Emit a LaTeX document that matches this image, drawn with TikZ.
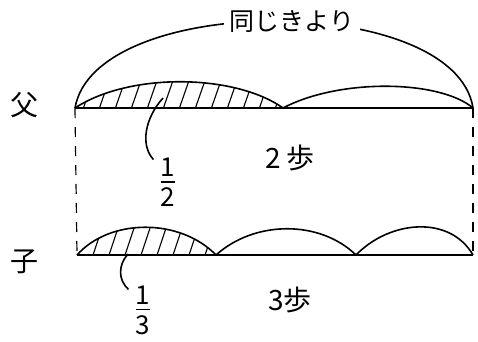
\documentclass[tikz,border=0pt]{standalone}
\usepackage{amsmath}
\usepackage{fontspec}
\newfontfamily\jp{Noto Sans CJK JP}
\usetikzlibrary{positioning}
\newcommand{\handfrac}[2]{$\genfrac{}{}{1.6pt}{0}{\text{\jp\fontsize{26}{28}\selectfont #1}}{\text{\jp\fontsize{26}{28}\selectfont #2}}$}
\tikzset{
  lbl/.style={font=\jp\fontsize{28}{30}\selectfont},
  toplbl/.style={font=\jp\fontsize{25}{27}\selectfont},
  hatch/.style={line width=1.1pt}
}

\begin{document}
\begin{tikzpicture}[x=1pt,y=-1pt,line width=1.6pt]
\useasboundingbox (0,0) rectangle (478,341);
% father and child lines
\coordinate (F0) at (75,108);
\coordinate (F1) at (283,108);
\coordinate (F2) at (473,108);
\coordinate (C0) at (77,255);
\coordinate (C1) at (216,255);
\coordinate (C2) at (356,255);
\coordinate (C3) at (473,255);
\node[lbl] (fa) at (24,105) {父};
\node[lbl] (ko) at (24,262) {子};
\draw (F0) -- (F2);
\draw (C0) -- (C3);
\draw [dash pattern=on 10pt off 9pt,line width=1.2pt] (F0) -- (C0);
\draw [dash pattern=on 10pt off 9pt,line width=1.2pt] (F2) -- (C3);
% hatching
\begin{scope}
\clip (F0) .. controls (130,72) and (235,74) .. (F1) -- cycle;
\foreach \x in {50,66,...,300} {
  \draw[hatch] (\x,112) -- ++(14,-40);
}
\end{scope}
\begin{scope}
\clip (C0) .. controls (110,218) and (180,218) .. (C1) -- cycle;
\foreach \x in {60,76,...,230} {
  \draw[hatch] (\x,258) -- ++(12,-36);
}
\end{scope}
% steps
\draw (F0) .. controls (130,72) and (235,74) .. (F1);
\draw (F1) .. controls (340,78) and (440,80) .. (F2);
\draw (C0) .. controls (110,218) and (180,218) .. (C1);
\draw (C1) .. controls (255,220) and (320,220) .. (C2);
\draw (C2) .. controls (390,220) and (450,215) .. (C3);
% same distance
\draw (F0) .. controls (95,-8) and (455,-8) .. (F2);
\node[toplbl, fill=white, inner xsep=6pt] (same) at (292,22) {同じきより};
% labels
\node (half) at (168,182) {\handfrac{1}{2}};
\node (third) at (143,310) {\handfrac{1}{3}};
\coordinate (h1) at (163,98);
\coordinate (t1) at (128,254);
\draw (h1) .. controls (145,118) and (140,145) .. ([xshift=-2pt,yshift=-6pt]half.north west);
\draw (t1) .. controls (118,265) and (118,280) .. ([xshift=-2pt,yshift=-8pt]third.north west);
\node[lbl] (two) at (290,158) {2 歩};
\node[lbl] (three) at (290,300) {3歩};
\end{tikzpicture}
\end{document}
